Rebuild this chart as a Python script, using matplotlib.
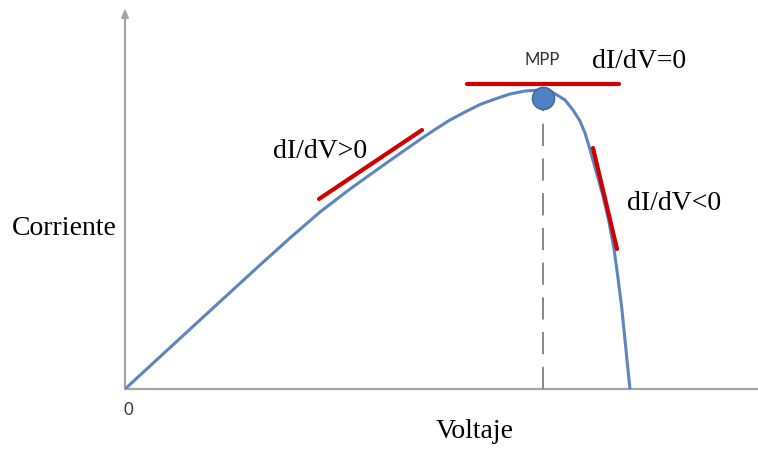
import matplotlib
matplotlib.use('Agg')

import matplotlib.pyplot as plt

# I-V curve (arbitrary units)
voltage = [0.0, 7.5, 13.5, 16.5, 19.5, 22.5, 26.0, 29.5, 31.0, 32.5, 34.0,
           35.5, 37.0, 38.5, 40.0, 41.5, 42.5, 43.2, 44.0, 44.8, 45.5, 46.0,
           46.4, 47.1, 47.8, 48.4, 48.9, 49.3, 49.7, 50.0, 50.3, 50.5]
current = [0.0, 6.9, 12.4, 15.1, 17.7, 20.0, 22.5, 24.95, 25.95, 26.9, 27.7,
           28.45, 29.0, 29.5, 29.8, 29.9, 29.8, 29.4, 28.9, 27.9, 26.8, 25.6,
           24.3, 21.8, 19.3, 16.7, 14.0, 11.1, 7.9, 4.9, 1.9, 0.0]

# maximum power point
mpp_v = 41.8
mpp_i = 29.1

# tangent segments (start, end)
tan_pos_v = [19.4, 29.7]
tan_pos_i = [19.0, 25.9]
tan_zero_v = [34.2, 49.4]
tan_zero_i = [30.5, 30.5]
tan_neg_v = [46.8, 49.2]
tan_neg_i = [24.1, 14.0]

plt.rcParams['lines.scale_dashes'] = False

fig = plt.figure(figsize=(7.58, 4.49), dpi=100)
ax = fig.add_axes([125 / 758, 60 / 449, 633 / 758, 381 / 449])
ax.set_xlim(0, 63.3)
ax.set_ylim(0, 38.1)
for s in ax.spines.values():
    s.set_visible(False)
ax.set_xticks([])
ax.set_yticks([])
ax.patch.set_alpha(0)

axis_color = '#a5a5a5'
# axes lines
ax.annotate('', xy=(0, 1.0), xycoords='axes fraction',
            xytext=(0, 0), textcoords='axes fraction',
            arrowprops=dict(arrowstyle='-|>,head_length=0.5,head_width=0.2',
                            color=axis_color, lw=1.6, shrinkA=0, shrinkB=0))
ax.plot([0, 1], [0, 0], transform=ax.transAxes, color=axis_color, lw=1.6,
        solid_capstyle='butt', clip_on=False)

# dashed drop line from MPP
ax.plot([mpp_v, mpp_v], [0, mpp_i], color='#7f7f7f', lw=1.3,
        dashes=(16, 9))

# curve
ax.plot(voltage, current, color='#5b87bd', lw=2.2, solid_capstyle='round',
        solid_joinstyle='round', zorder=3)

# tangents
red = '#d00000'
for tv, ti in [(tan_pos_v, tan_pos_i), (tan_zero_v, tan_zero_i), (tan_neg_v, tan_neg_i)]:
    ax.plot(tv, ti, color=red, lw=3.0, solid_capstyle='round', zorder=4)

# MPP marker
ax.plot([mpp_v], [mpp_i], 'o', ms=16, color='#4f81c4', mec='#3b679c',
        mew=1.0, zorder=5)

serif = 'Liberation Serif'
ax.text(41.7, 32.4, 'MPP', family='Lato', fontsize=12, color='#333333',
        ha='center', va='baseline')
ax.text(46.7, 32.1, 'dI/dV=0', family=serif, fontsize=20, ha='left', va='baseline')
ax.text(14.8, 23.1, 'dI/dV>0', family=serif, fontsize=20, ha='left', va='baseline')
ax.text(50.2, 17.9, 'dI/dV<0', family=serif, fontsize=20, ha='left', va='baseline')

fig.text(12 / 758, 1 - 235 / 449, 'Corriente', family=serif, fontsize=20,
         ha='left', va='baseline')
fig.text(436 / 758, 1 - 438 / 449, 'Voltaje', family=serif, fontsize=20,
         ha='left', va='baseline')
fig.text(128 / 758, 1 - 415 / 449, '0', family='Lato', fontsize=12,
         color='#333333', ha='center', va='baseline')

plt.savefig('out.png', dpi=100)
